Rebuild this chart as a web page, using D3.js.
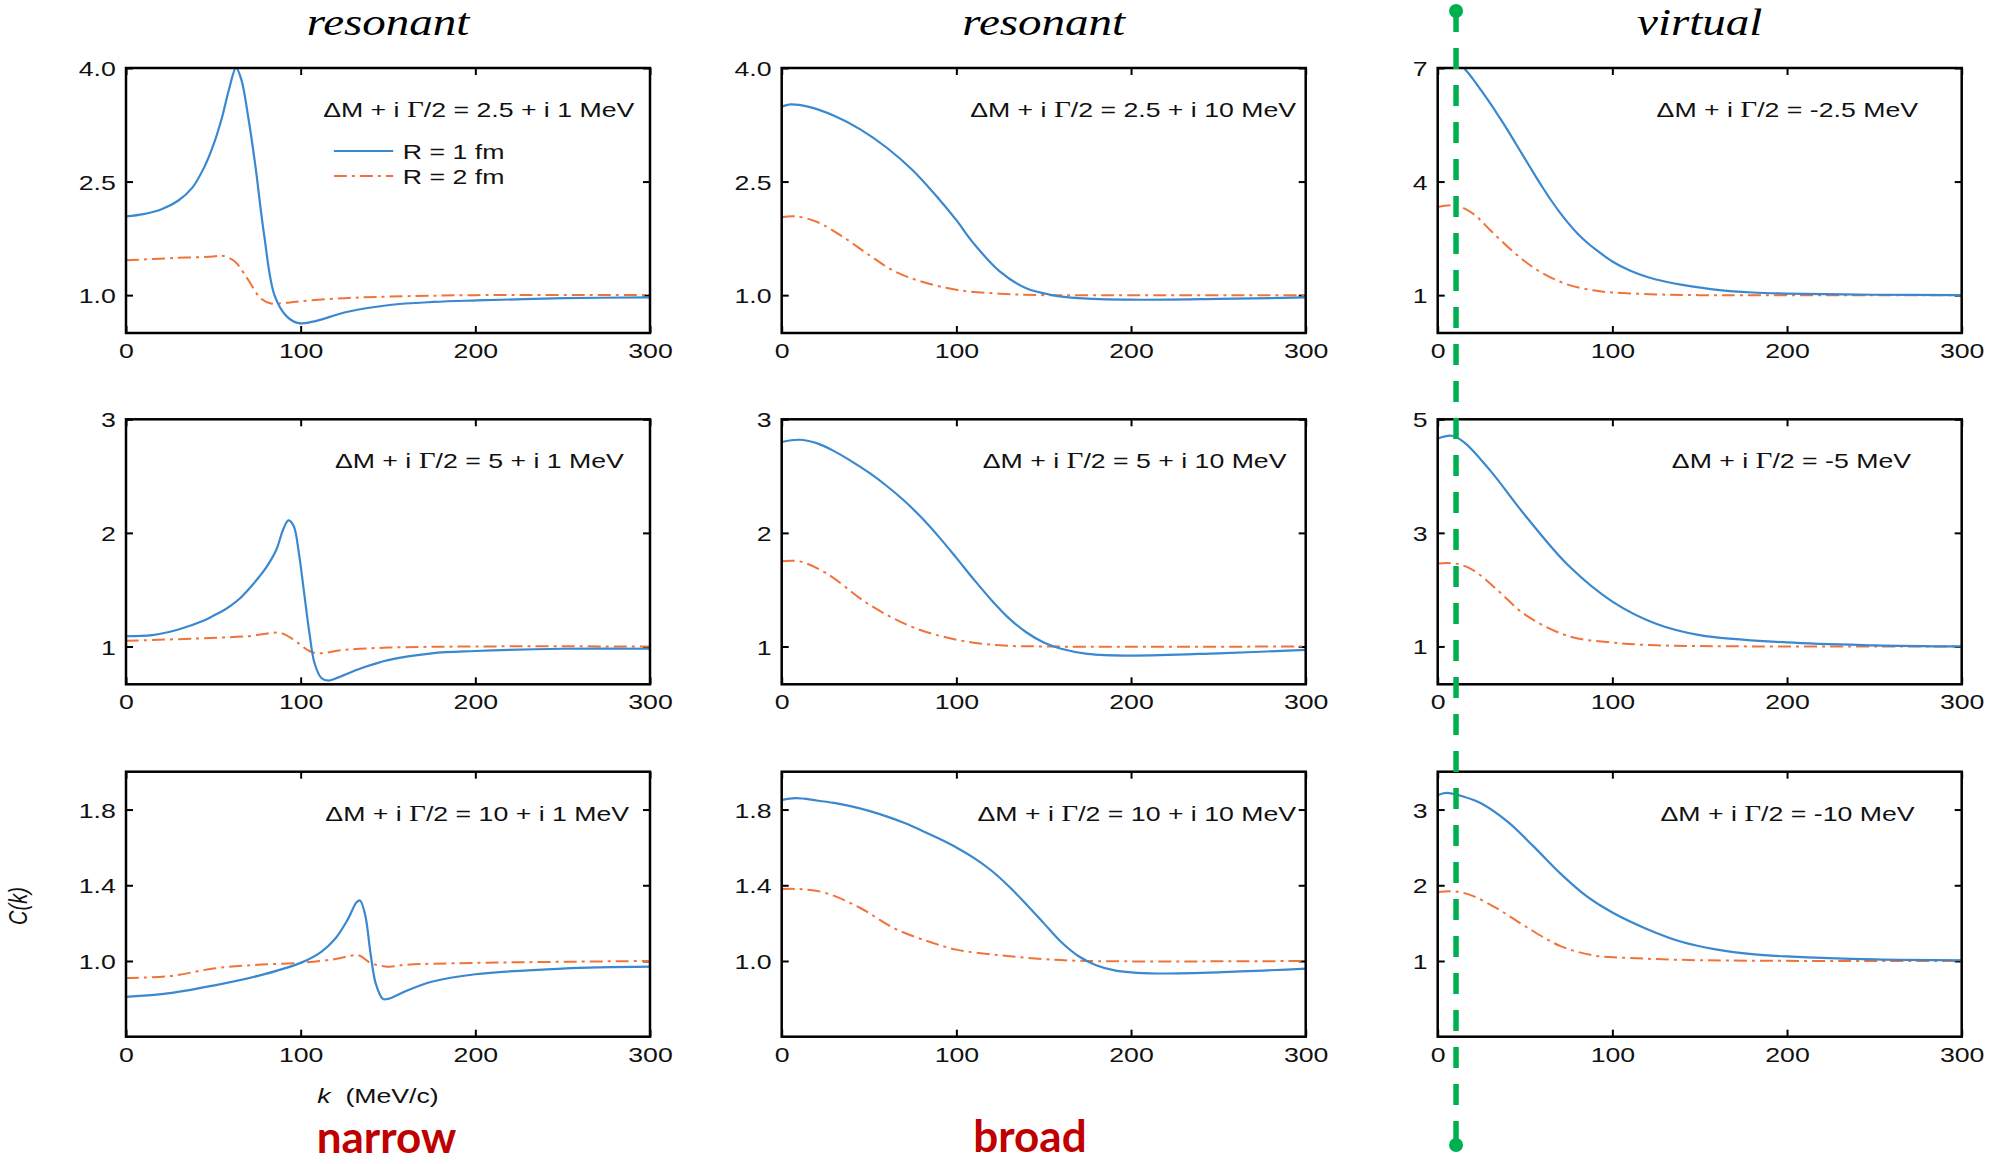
<!DOCTYPE html>
<html>
<head>
<meta charset="utf-8">
<script src="https://cdn.jsdelivr.net/npm/d3@7"></script>
<style>
  body { margin: 0; background: #fff; }
  svg { display: block; }
  .frame { fill: none; stroke: #000; stroke-width: 2.5; }
  .axis line { stroke: #000; stroke-width: 2; }
  .axis text, .note, .legend-label, .axis-label { font-family: "Liberation Sans", Arial, sans-serif; fill: #111; }
  .axis text { font-size: 21px; }
  .note, .legend-label { font-size: 21px; }
  .col-title { font-family: "Liberation Serif", "Times New Roman", serif; font-style: italic; font-size: 37px; fill: #000; }
  .r1 { fill: none; stroke: #3a88cf; stroke-width: 2.2; }
  .r2 { fill: none; stroke: #f2733a; stroke-width: 2; stroke-dasharray: 13,5,3,5; }
  .tag { font-family: Lato, "Open Sans", sans-serif; font-weight: 700; font-size: 44px; fill: #c00000; }
</style>
</head>
<body>
<svg id="chart" width="1990" height="1164"></svg>
<script>

// column headings and panel notes (row-major, 3x3)
var col_titles = ['resonant', 'resonant', 'virtual'];
var notes = ['2.5 + i 1', '2.5 + i 10', '-2.5',
             '5 + i 1', '5 + i 10', '-5',
             '10 + i 1', '10 + i 10', '-10'];
var note_end_k = [291, 294.5, 275, 285, 289, 271, 288, 294.5, 273];

var y_domains = [[0.5, 4.0], [0.5, 4.0], [0, 7],
                 [0.667, 3], [0.667, 3], [0.333, 5],
                 [0.6, 2.0], [0.6, 2.0], [0, 3.5]];
var y_ticks = [[1.0, 2.5, 4.0], [1.0, 2.5, 4.0], [1, 4, 7],
               [1, 2, 3], [1, 2, 3], [1, 3, 5],
               [1.0, 1.4, 1.8], [1.0, 1.4, 1.8], [1, 2, 3]];
var y_formats = ['.1f', '.1f', 'd', 'd', 'd', 'd', '.1f', '.1f', 'd'];
var x_ticks = [0, 100, 200, 300];

// C(k), [k (MeV/c), C]; R = 1 fm (solid) and R = 2 fm (dash-dot)
var narrow_25_R1 = [[0,2.04],[10,2.07],[20,2.13],[30,2.25],[38,2.42],[45,2.70],[50,2.98],[55,3.35],[59,3.72],[63,4.0],[66,3.85],[70,3.35],[74,2.72],[79,1.81],[85,1.0],[92,0.72],[99,0.63],[107,0.65],[127,0.78],[151,0.87],[176,0.91],[201,0.93],[251,0.96],[300,0.97]];
var narrow_25_R2 = [[0,1.46],[27,1.49],[50,1.51],[55,1.52],[62,1.45],[70,1.20],[77,0.96],[83,0.89],[90,0.895],[100,0.92],[125,0.96],[150,0.98],[200,1.0],[300,1.0]];
var broad_25_R1 = [[0,3.49],[5,3.52],[15,3.49],[30,3.37],[45,3.19],[60,2.95],[75,2.65],[90,2.27],[100,1.99],[110,1.68],[125,1.31],[140,1.09],[155,1.0],[170,0.96],[200,0.94],[250,0.95],[300,0.97]];
var broad_25_R2 = [[0,2.03],[8,2.04],[20,1.97],[35,1.77],[50,1.53],[65,1.31],[80,1.18],[100,1.07],[125,1.02],[150,1.0],[200,1.0],[300,1.0]];
var virtual_25_R1 = [[0,7.25],[5,7.3],[10,7.2],[15,7.0],[20,6.72],[25,6.40],[30,6.07],[35,5.72],[40,5.36],[45,4.98],[50,4.60],[55,4.22],[60,3.85],[65,3.50],[70,3.18],[75,2.89],[80,2.63],[85,2.41],[90,2.22],[100,1.89],[110,1.65],[120,1.48],[130,1.36],[140,1.27],[160,1.14],[180,1.07],[200,1.04],[250,1.01],[300,1.0]];
var virtual_25_R2 = [[0,3.33],[10,3.37],[20,3.16],[30,2.72],[40,2.28],[50,1.89],[60,1.58],[75,1.27],[90,1.12],[100,1.07],[125,1.02],[150,1.0],[300,1.0]];

var narrow_5_R1 = [[0,1.09],[15,1.10],[30,1.15],[45,1.23],[50,1.27],[55,1.31],[60,1.36],[65,1.42],[70,1.50],[75,1.59],[80,1.69],[86,1.85],[90,2.03],[93,2.11],[96,2.06],[99,1.82],[102,1.47],[105,1.12],[108,0.85],[112,0.72],[116,0.70],[122,0.73],[135,0.81],[150,0.88],[175,0.94],[200,0.96],[250,0.98],[300,0.98]];
var narrow_5_R2 = [[0,1.05],[40,1.07],[70,1.09],[88,1.12],[95,1.07],[105,0.96],[110,0.94],[125,0.97],[150,0.99],[200,1.0],[300,1.0]];
var broad_5_R1 = [[0,2.80],[10,2.82],[20,2.79],[30,2.72],[40,2.63],[50,2.53],[60,2.415],[70,2.285],[80,2.135],[90,1.965],[100,1.78],[110,1.59],[120,1.41],[130,1.25],[140,1.125],[150,1.035],[160,0.98],[175,0.935],[200,0.92],[250,0.94],[300,0.97]];
var broad_5_R2 = [[0,1.75],[10,1.75],[25,1.65],[50,1.37],[75,1.17],[100,1.06],[125,1.01],[150,1.0],[300,1.0]];
var virtual_5_R1 = [[0,4.66],[8,4.71],[15,4.60],[30,4.10],[50,3.31],[75,2.42],[100,1.79],[125,1.40],[150,1.20],[200,1.07],[250,1.02],[300,1.0]];
var virtual_5_R2 = [[0,2.46],[10,2.46],[20,2.35],[35,1.97],[50,1.56],[75,1.18],[100,1.07],[125,1.02],[300,1.0]];

var narrow_10_R1 = [[0,0.81],[25,0.83],[50,0.87],[75,0.92],[100,0.99],[112,1.05],[120,1.12],[127,1.22],[132,1.31],[134,1.32],[137,1.24],[140,1.04],[143,0.88],[147,0.80],[150,0.80],[160,0.84],[175,0.89],[200,0.93],[250,0.96],[300,0.97]];
var narrow_10_R2 = [[0,0.91],[25,0.92],[50,0.96],[75,0.98],[100,0.99],[120,1.01],[133,1.03],[140,0.99],[150,0.97],[160,0.98],[200,0.99],[300,1.0]];
var broad_10_R1 = [[0,1.85],[8,1.86],[20,1.848],[30,1.835],[40,1.817],[50,1.793],[60,1.764],[70,1.73],[80,1.69],[90,1.647],[100,1.60],[110,1.545],[120,1.478],[130,1.395],[140,1.30],[150,1.20],[160,1.10],[170,1.025],[180,0.978],[190,0.952],[200,0.94],[215,0.934],[250,0.94],[300,0.96]];
var broad_10_R2 = [[0,1.38],[10,1.38],[25,1.36],[45,1.28],[65,1.17],[85,1.10],[100,1.06],[125,1.03],[150,1.01],[175,1.0],[300,1.0]];
var virtual_10_R1 = [[0,3.19],[5,3.22],[15,3.17],[25,3.08],[40,2.84],[55,2.51],[70,2.16],[85,1.86],[100,1.64],[120,1.42],[140,1.25],[160,1.15],[180,1.09],[200,1.06],[250,1.02],[300,1.01]];
var virtual_10_R2 = [[0,1.91],[10,1.92],[20,1.86],[35,1.68],[50,1.46],[70,1.20],[90,1.07],[110,1.04],[150,1.01],[300,1.0]];

var series_R1 = [narrow_25_R1, broad_25_R1, virtual_25_R1, narrow_5_R1, broad_5_R1, virtual_5_R1, narrow_10_R1, broad_10_R1, virtual_10_R1];
var series_R2 = [narrow_25_R2, broad_25_R2, virtual_25_R2, narrow_5_R2, broad_5_R2, virtual_5_R2, narrow_10_R2, broad_10_R2, virtual_10_R2];
var legend_labels = ['R = 1 fm', 'R = 2 fm'];
var marker_k = 10.5;

var col_left = [126, 781.7, 1437.7],
    row_top = [68, 419.3, 771.7],
    panel_w = 524,
    panel_h = 265,
    sx = 1.27; // the original figure is stretched sideways

var svg = d3.select('#chart');

var x = d3.scaleLinear().domain([0, 300]).range([0, panel_w]);

var line = d3.line()
  .x(function(d) { return x(d[0]); })
  .curve(d3.curveCatmullRom.alpha(0.5));

function add_note(g, txt, xe, ye) {
  var t = g.append('text')
    .attr('class', 'note')
    .attr('text-anchor', 'end')
    .attr('transform', 'translate(' + xe + ',' + ye + ') scale(' + sx + ',1)');
  t.append('tspan').text('\u0394M + i ');
  t.append('tspan').style('font-family', '"Liberation Serif", serif').style('font-size', '23px').text('\u0393');
  t.append('tspan').text('/2 = ' + txt + ' MeV');
}

d3.range(9).forEach(function(i) {
  var row = Math.floor(i / 3),
      col = i % 3;

  var y = d3.scaleLinear().domain(y_domains[i]).range([panel_h, 0]);
  line.y(function(d) { return y(d[1]); });

  var g = svg.append('g')
    .attr('transform', 'translate(' + col_left[col] + ',' + row_top[row] + ')');

  g.append('clipPath').attr('id', 'clip' + i)
    .append('rect').attr('width', panel_w).attr('height', panel_h);

  // axes: ticks point inwards on all four sides
  var ax_l = g.append('g').attr('class', 'axis')
    .call(d3.axisLeft(y).tickValues(y_ticks[i]).tickSizeInner(-7).tickSizeOuter(0).tickPadding(8).tickFormat(d3.format(y_formats[i])));
  ax_l.selectAll('text').attr('transform', 'scale(' + sx + ',1)').attr('dy', '0.36em');

  g.append('g').attr('class', 'axis')
    .attr('transform', 'translate(' + panel_w + ',0)')
    .call(d3.axisRight(y).tickValues(y_ticks[i]).tickSizeInner(-7).tickSizeOuter(0).tickFormat(''));

  var ax_b = g.append('g').attr('class', 'axis')
    .attr('transform', 'translate(0,' + panel_h + ')')
    .call(d3.axisBottom(x).tickValues(x_ticks).tickSizeInner(-7).tickSizeOuter(0).tickPadding(10).tickFormat(d3.format('d')));
  ax_b.selectAll('text').attr('transform', 'scale(' + sx + ',1)');

  g.append('g').attr('class', 'axis')
    .call(d3.axisTop(x).tickValues(x_ticks).tickSizeInner(-7).tickSizeOuter(0).tickFormat(''));

  g.selectAll('.domain').remove();

  var plot = g.append('g').attr('clip-path', 'url(#clip' + i + ')');
  plot.append('path').attr('class', 'r2').attr('d', line(series_R2[i]));
  plot.append('path').attr('class', 'r1').attr('d', line(series_R1[i]));

  g.append('rect').attr('class', 'frame').attr('width', panel_w).attr('height', panel_h);

  add_note(g, notes[i], x(note_end_k[i]), 49);

  if (i == 0) {
    legend_labels.forEach(function(lab, j) {
      var ly = 83 + j * 25;
      g.append('line')
        .attr('class', j == 0 ? 'r1' : 'r2')
        .attr('x1', x(119)).attr('x2', x(153))
        .attr('y1', ly).attr('y2', ly);
      g.append('text')
        .attr('class', 'legend-label')
        .attr('transform', 'translate(' + x(158.5) + ',' + (ly + 7.5) + ') scale(' + sx + ',1)')
        .text(lab);
    });
  }

  if (row == 0) {
    g.append('text')
      .attr('class', 'col-title')
      .attr('text-anchor', 'middle')
      .attr('transform', 'translate(' + (panel_w / 2) + ',' + (35 - row_top[0]) + ') scale(' + sx + ',1)')
      .text(col_titles[col]);
  }
});

// axis titles (only on the bottom-left panel)
var yl = svg.append('text')
  .attr('class', 'axis-label')
  .attr('text-anchor', 'middle')
  .attr('transform', 'translate(27,906) scale(' + sx + ',1) rotate(-90)')
  .style('font-size', '20px')
  .style('font-style', 'italic')
  .text('C(k)');

var xl = svg.append('text')
  .attr('class', 'axis-label')
  .attr('text-anchor', 'middle')
  .attr('transform', 'translate(378,1103) scale(' + sx + ',1)')
  .style('font-size', '21px');
xl.append('tspan').style('font-style', 'italic').text('k');
xl.append('tspan').text('\u00a0\u00a0(MeV/c)');

// slide annotations
svg.append('text').attr('class', 'tag').attr('text-anchor', 'middle')
  .attr('x', 386.5).attr('y', 1153).text('narrow');
svg.append('text').attr('class', 'tag').attr('text-anchor', 'middle')
  .attr('x', 1030).attr('y', 1152).text('broad');

// green marker through the virtual-state column
var xm = col_left[2] + x(marker_k);
svg.append('line')
  .attr('x1', xm).attr('x2', xm)
  .attr('y1', 11).attr('y2', 1145)
  .attr('stroke', '#00b050')
  .attr('stroke-width', 5.5)
  .attr('stroke-dasharray', '21,16');
[11, 1145].forEach(function(cy) {
  svg.append('circle').attr('cx', xm).attr('cy', cy).attr('r', 7).attr('fill', '#00b050');
});

</script>
</body>
</html>
